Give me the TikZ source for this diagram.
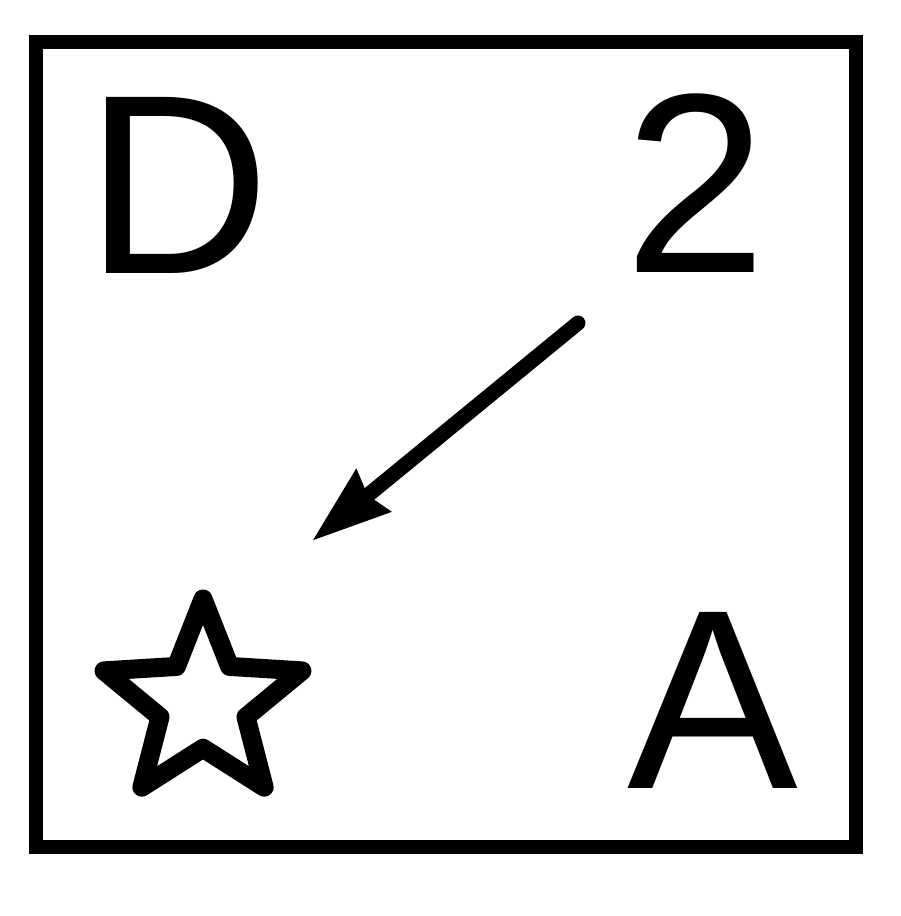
\documentclass[tikz,border=0pt]{standalone}
\usepackage{fontspec}
\setmainfont{Liberation Sans}
\usetikzlibrary{arrows.meta,shapes.geometric}
\begin{document}
\begin{tikzpicture}[x=1pt,y=-1pt,
  glyph/.style={inner sep=0pt,outer sep=0pt,anchor=base west,font=\fontsize{256}{256}\selectfont},
  frame/.style={line width=14pt,line join=miter},
  starshape/.style={draw,star,star points=5,star point ratio=2.3,minimum size=208pt,inner sep=0pt,line width=19pt,line join=round},
  bigarrow/.style={line width=15pt,line cap=round,-{Stealth[length=78pt,width=52pt,inset=6pt]}}]
\useasboundingbox (0,0) rectangle (900,916);
\draw[frame] (36,42) rectangle (856,847);
\node[glyph] (D) at (85.3,273) {D};
\node[glyph] (two) at (624.5,272) {2};
\node[glyph] (A) at (627,788) {A};
\node[starshape] (star) at (203,703) {};
\coordinate (tail) at (578,323);
\coordinate (head) at (312,541);
\draw[bigarrow] (tail) -- (head);
\end{tikzpicture}
\end{document}
